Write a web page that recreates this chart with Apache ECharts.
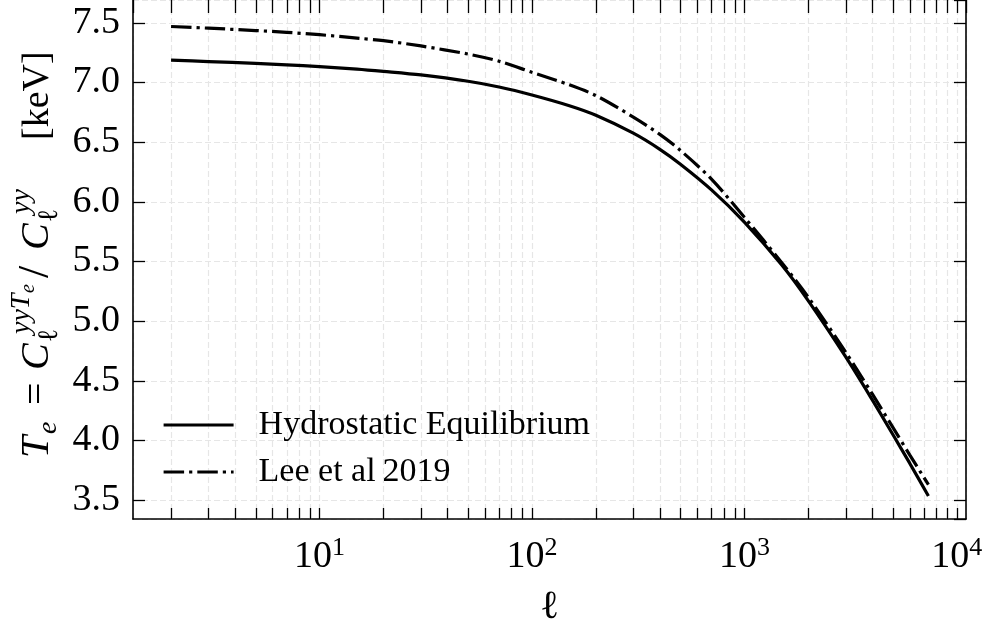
<!DOCTYPE html>
<html>
<head>
<meta charset="utf-8">
<script src="https://cdn.jsdelivr.net/npm/echarts@6/dist/echarts.min.js"></script>
<style>
  html, body { margin: 0; padding: 0; background: #ffffff; }
  #chart { width: 988px; height: 632px; }
</style>
</head>
<body>
<div id="chart"></div>
<script>
// Multipole values and the two temperature curves T_e(ℓ) in keV
const multipoles = [2, 3, 5, 7, 10, 15, 20, 30, 50, 70, 100, 150, 200, 300, 400, 500, 700,
  1000, 1500, 2000, 3000, 4000, 5000, 6000, 7350];
const tempHydrostatic = [7.187, 7.175, 7.16, 7.148, 7.132, 7.112, 7.093, 7.063, 7.01, 6.962,
  6.895, 6.805, 6.725, 6.575, 6.44, 6.315, 6.10, 5.83, 5.47, 5.17, 4.70, 4.34, 4.05, 3.81, 3.535];
const tempLee2019 = [7.469, 7.455, 7.435, 7.42, 7.40, 7.372, 7.35, 7.306, 7.238, 7.178,
  7.085, 6.98, 6.89, 6.71, 6.565, 6.43, 6.19, 5.87, 5.49, 5.20, 4.74, 4.39, 4.11, 3.88, 3.63];
const seriesNames = ['Hydrostatic Equilibrium', 'Lee et al\u20092019'];

// Axis ranges and tick positions
const X_MIN = 1.324, X_MAX = 11047;
const Y_MIN = 3.3423, Y_MAX = 7.6909;
const xMinorTicks = [2, 3, 4, 5, 6, 7, 8, 9, 20, 30, 40, 50, 60, 70, 80, 90,
  200, 300, 400, 500, 600, 700, 800, 900, 2000, 3000, 4000, 5000, 6000, 7000, 8000, 9000];

const SERIF = '"Liberation Serif", "DejaVu Serif", serif';
const GRID_COLOR = '#e6e6e6';
const GRID_DASH = [6, 3];
const TICK_LEN = 11;

const chart = echarts.init(document.getElementById('chart'), null, { renderer: 'canvas' });

const pair = (xs, ys) => xs.map((x, i) => [x, ys[i]]);

// minor ticks on the log axis (top and bottom) with their dashed grid lines
function renderMinorTick(params, api) {
  const v = api.value(0);
  const bottom = api.coord([v, Y_MIN]);
  const top = api.coord([v, Y_MAX]);
  const x = Math.round(bottom[0]) + 0.5;
  return {
    type: 'group',
    children: [
      { type: 'line', shape: { x1: x, y1: top[1], x2: x, y2: bottom[1] },
        style: { stroke: GRID_COLOR, lineWidth: 1.2, lineDash: GRID_DASH } },
      { type: 'line', shape: { x1: x, y1: bottom[1], x2: x, y2: bottom[1] - TICK_LEN },
        style: { stroke: '#000', lineWidth: 1.3 } },
      { type: 'line', shape: { x1: x, y1: top[1], x2: x, y2: top[1] + TICK_LEN + 2 },
        style: { stroke: '#000', lineWidth: 1.3 } }
    ]
  };
}

// rotated y-axis title built from pieces (main, sub- and superscripts)
function piece(text, x, baseline, size, italic) {
  return {
    type: 'text',
    x: x,
    y: baseline - 0.3375 * size,
    style: {
      text: text,
      font: (italic ? 'italic ' : '') + size + 'px ' + SERIF,
      fill: '#000',
      align: 'left', verticalAlign: 'middle',
      textAlign: 'left', textVerticalAlign: 'middle'
    }
  };
}

const yTitle = {
  type: 'group',
  x: 51, y: 458,
  rotation: Math.PI / 2,
  children: [
    piece('T', 0, 0, 40, true),
    piece('e', 24, 7, 28, true),
    piece('=', 53, 0, 40, false),
    piece('C', 88, 0, 40, true),
    piece('yyT', 124, -20, 28, true),
    piece('e', 165, -16, 20, true),
    piece('\u2113', 116, 8, 28, false),
    piece('/', 180, 0, 44, false),
    piece('C', 208, 0, 40, true),
    piece('yy', 244, -20, 28, true),
    piece('\u2113', 236, 8, 28, false),
    piece('[keV]', 318, 0, 38, false)
  ]
};

const axisLineStyle = { color: '#000', width: 1.6 };
const tickStyle = { color: '#000', width: 1.3 };
const gridLineStyle = { color: GRID_COLOR, width: 1.2, type: GRID_DASH };

const option = {
  animation: false,
  backgroundColor: '#ffffff',
  grid: { left: 133, right: 22, top: -4, bottom: 112, containLabel: false },
  legend: {
    orient: 'vertical',
    left: 162,
    top: 407,
    padding: 0,
    itemWidth: 70,
    itemHeight: 16,
    itemGap: 11,
    data: seriesNames,
    itemStyle: { opacity: 0 },
    lineStyle: { width: 3.2 },
    textStyle: { fontFamily: SERIF, fontSize: 34, color: '#000', lineHeight: 36, padding: [0, 0, 0, 20] }
  },
  xAxis: [
    {
      type: 'log', logBase: 10, min: X_MIN, max: X_MAX,
      name: '\u2113', nameLocation: 'middle', nameGap: 68,
      nameTextStyle: { fontFamily: SERIF, fontSize: 40, color: '#000' },
      axisLine: { show: true, lineStyle: axisLineStyle },
      axisTick: { show: true, inside: true, length: TICK_LEN, lineStyle: tickStyle },
      splitLine: { show: true, lineStyle: gridLineStyle },
      minorTick: { show: false },
      axisLabel: {
        show: true, margin: 16, showMinLabel: false, showMaxLabel: false,
        formatter: v => '{b|10}{s|' + Math.round(Math.log10(v)) + '}',
        rich: {
          b: { fontFamily: SERIF, fontSize: 38, color: '#000', lineHeight: 44 },
          s: { fontFamily: SERIF, fontSize: 26, color: '#000', lineHeight: 24, verticalAlign: 'top' }
        }
      }
    },
    {
      type: 'log', logBase: 10, min: X_MIN, max: X_MAX, position: 'top',
      axisLine: { show: false },
      axisTick: { show: true, inside: true, length: TICK_LEN + 2, lineStyle: tickStyle },
      axisLabel: { show: false },
      splitLine: { show: false }
    }
  ],
  yAxis: [
    {
      type: 'value', min: Y_MIN, max: Y_MAX, splitNumber: 9,
      axisLine: { show: true, lineStyle: axisLineStyle },
      axisTick: { show: true, inside: true, length: 12, lineStyle: tickStyle },
      splitLine: { show: true, lineStyle: gridLineStyle },
      axisLabel: {
        show: true, margin: 13, showMinLabel: false, showMaxLabel: false,
        fontFamily: SERIF, fontSize: 38, color: '#000',
        formatter: v => v.toFixed(1)
      }
    },
    {
      type: 'value', min: Y_MIN, max: Y_MAX, splitNumber: 9, position: 'right',
      axisLine: { show: true, lineStyle: axisLineStyle },
      axisTick: { show: true, inside: true, length: 12, lineStyle: tickStyle },
      splitLine: { show: false },
      axisLabel: { show: false }
    }
  ],
  graphic: [yTitle],
  series: [
    {
      type: 'custom',
      xAxisIndex: 0, yAxisIndex: 0,
      renderItem: renderMinorTick,
      data: xMinorTicks.map(v => [v, Y_MIN]),
      encode: { x: 0, y: 1 },
      silent: true,
      z: 1
    },
    {
      name: seriesNames[0],
      type: 'line',
      data: pair(multipoles, tempHydrostatic),
      symbol: 'none',
      smooth: 0.3,
      lineStyle: { color: '#000', width: 3.2, type: 'solid', cap: 'butt' },
      itemStyle: { color: '#000' },
      z: 3
    },
    {
      name: seriesNames[1],
      type: 'line',
      data: pair(multipoles, tempLee2019),
      symbol: 'none',
      smooth: 0.3,
      lineStyle: { color: '#000', width: 3.2, type: [20.5, 5, 3.2, 5], cap: 'butt' },
      itemStyle: { color: '#000' },
      z: 3
    }
  ]
};

chart.setOption(option);
</script>
</body>
</html>
